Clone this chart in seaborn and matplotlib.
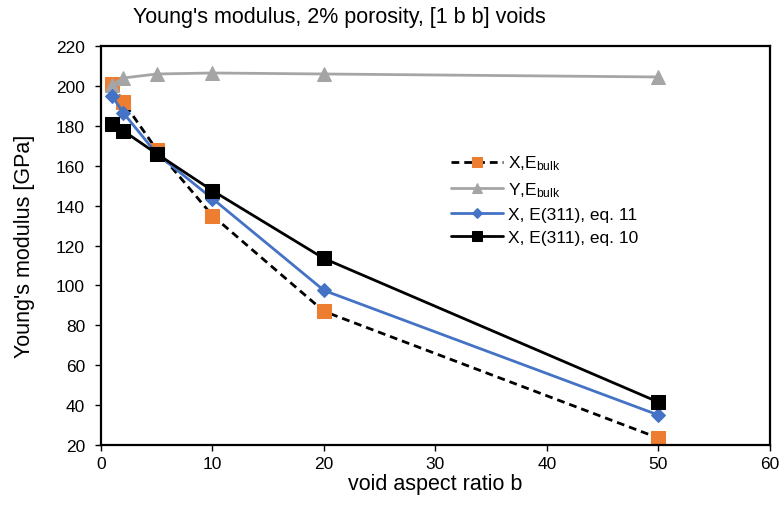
import numpy as np
import pandas as pd
import matplotlib
matplotlib.use("Agg")
import matplotlib.pyplot as plt
import seaborn as sns

# aspect ratio of the voids
aspect = [1, 2, 5, 10, 20, 50]

# Young's modulus [GPa]
x_bulk = [201, 192, 168, 135, 87, 23.5]
y_bulk = [200.5, 204, 206, 206.5, 206, 204.5]
x_eq11 = [195, 186.5, 166, 143.5, 97.5, 35]
x_eq10 = [181, 177.5, 166, 147.5, 113.5, 41.5]

labels = [r"X,$\mathregular{E_{bulk}}$", r"Y,$\mathregular{E_{bulk}}$",
          "X, E(311), eq. 11", "X, E(311), eq. 10"]

sns.set_style("white")
plt.rcParams['font.family'] = ['Liberation Sans', 'DejaVu Sans']
plt.rcParams['mathtext.fontset'] = 'custom'
plt.rcParams['mathtext.rm'] = 'Liberation Sans'
for k in ['text.color', 'axes.labelcolor', 'xtick.color', 'ytick.color']:
    plt.rcParams[k] = 'black'

fig = plt.figure(figsize=(7.8, 5.06), dpi=100)
ax = fig.add_axes([0.1295, 0.1186, 0.8575, 0.7884])

sns.lineplot(x=aspect, y=x_bulk, ax=ax, color='black', linestyle=(0, (2.8, 1.8)), linewidth=2,
             marker='s', markersize=9.5, markerfacecolor='#ED7D31', markeredgecolor='#ED7D31',
             label=labels[0])
sns.lineplot(x=aspect, y=y_bulk, ax=ax, color='#A5A5A5', linewidth=2,
             marker='^', markersize=9.5, markerfacecolor='#A5A5A5', markeredgecolor='#A5A5A5',
             label=labels[1])
sns.lineplot(x=aspect, y=x_eq11, ax=ax, color='#4472C4', linewidth=2,
             marker='D', markersize=7, markerfacecolor='#4472C4', markeredgecolor='#4472C4',
             label=labels[2])
sns.lineplot(x=aspect, y=x_eq10, ax=ax, color='black', linewidth=2,
             marker='s', markersize=9.5, markerfacecolor='black', markeredgecolor='black',
             label=labels[3])

ax.set_xlim(0, 60)
ax.set_ylim(20, 220)
ax.set_xticks(np.arange(0, 61, 10))
ax.set_yticks(np.arange(20, 221, 20))
ax.tick_params(axis='both', direction='out', length=4, width=1, labelsize=12.5,
               bottom=True, left=True)
ax.tick_params(axis='x', pad=4)
ax.tick_params(axis='y', pad=7.5)
for s in ax.spines.values():
    s.set_color('black')
    s.set_linewidth(1.6)

ax.set_xlabel('void aspect ratio b', fontsize=15.5, labelpad=1.5)
ax.set_ylabel("Young's modulus [GPa]", fontsize=15.5, labelpad=15)

fig.text(133 / 780, 1 - 23 / 506, "Young's modulus, 2% porosity, [1 b b] voids",
         fontsize=15.5, ha='left', va='baseline')

leg = ax.legend(loc='upper left', bbox_to_anchor=(435 / 780, 1 - 139 / 506),
                bbox_transform=fig.transFigure, frameon=False, fontsize=12.5,
                handlelength=3.0, handletextpad=0.3, labelspacing=0.45, markerscale=0.75)

plt.savefig("out.png", dpi=100)
